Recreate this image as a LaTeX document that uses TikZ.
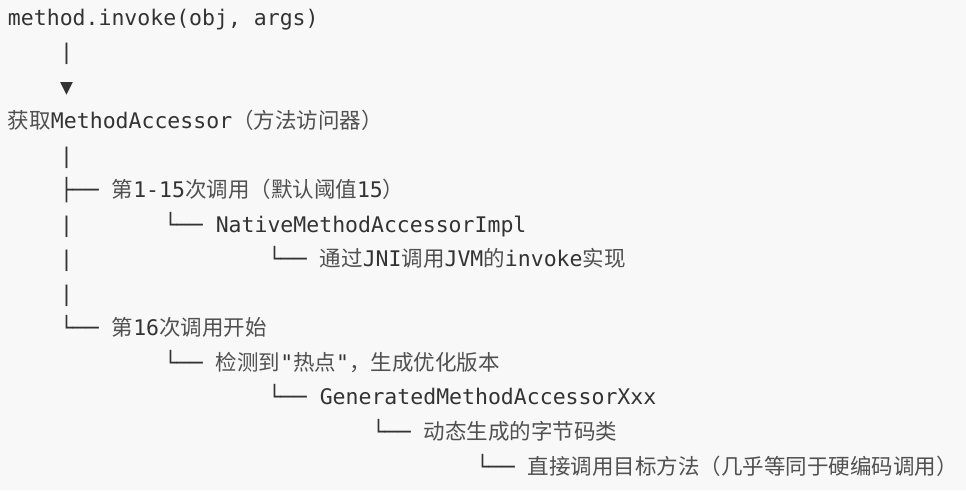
\documentclass[tikz,border=0pt]{standalone}
\usepackage{fontspec}
\newfontfamily\codef{DejaVu Sans Mono}
\newfontfamily\cjkf{Noto Sans CJK SC}
\definecolor{txt}{HTML}{333333}
\definecolor{cjkc}{HTML}{505050}
\definecolor{bg}{HTML}{F8F8F8}
\newcommand{\zh}[1]{{\cjkf\color{cjkc}#1}}
\begin{document}
\begin{tikzpicture}[x=1pt,y=-1pt,
  codeline/.style={inner sep=0pt, outer sep=0pt, anchor=base west, text=txt,
    font=\fontsize{21.5}{25}\selectfont\codef}]
\fill[bg] (0,0) rectangle (966,490);
\useasboundingbox (0,0) rectangle (966,490);
% columns: x = 8 + 13*c
\node[codeline] (l1) at (8,25) {method.invoke(obj, args)};
\node[codeline] (l2) at (60,59.5) {|};
\node[codeline] (l3) at (60,94.1) {▼};
\node[codeline] (l4) at (8,128.6) {\zh{获取}MethodAccessor\zh{（方法访问器）}};
\node[codeline] (l5) at (60,163.2) {|};
\node[codeline] (l6) at (60,197.7) {├── \zh{第}1-15\zh{次调用（默认阈值}15\zh{）}};
\node[codeline] (l7p) at (60,232.2) {|};
\node[codeline] (l7) at (164,232.2) {└── NativeMethodAccessorImpl};
\node[codeline] (l8p) at (60,266.8) {|};
\node[codeline] (l8) at (268,266.8) {└── \zh{通过}JNI\zh{调用}JVM\zh{的}invoke\zh{实现}};
\node[codeline] (l9) at (60,301.3) {|};
\node[codeline] (l10) at (60,335.9) {└── \zh{第}16\zh{次调用开始}};
\node[codeline] (l11) at (164,370.4) {└── \zh{检测到}"\zh{热点}"\zh{，生成优化版本}};
\node[codeline] (l12) at (268,404.9) {└── GeneratedMethodAccessorXxx};
\node[codeline] (l13) at (372,439.5) {└── \zh{动态生成的字节码类}};
\node[codeline] (l14) at (476,474.0) {└── \zh{直接调用目标方法（几乎等同于硬编码调用）}};
\end{tikzpicture}
\end{document}
